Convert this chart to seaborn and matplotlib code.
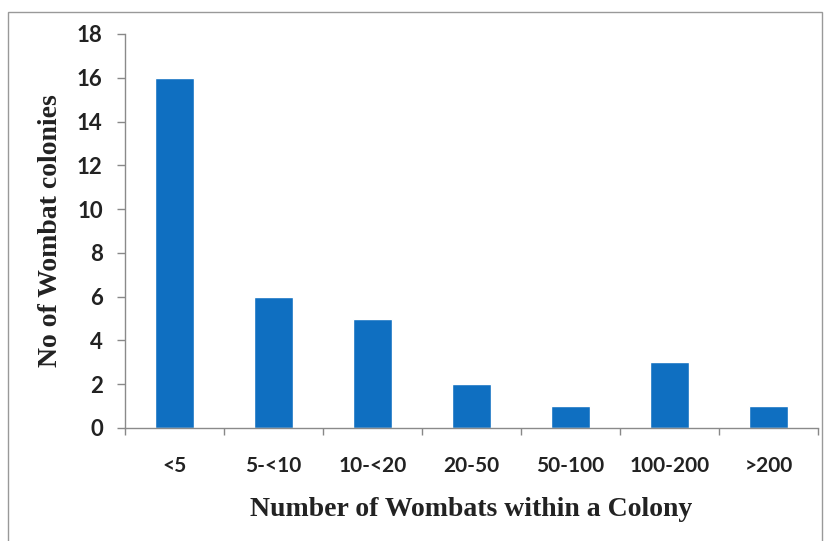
import matplotlib
matplotlib.use("Agg")
import matplotlib.pyplot as plt
import seaborn as sns
import pandas as pd
from matplotlib.patches import Rectangle

# dados
categorias = ["<5", "5-<10", "10-<20", "20-50", "50-100", "100-200", ">200"]
colonias = [16, 6, 5, 2, 1, 3, 1]
yticks = [0, 2, 4, 6, 8, 10, 12, 14, 16, 18]

df = pd.DataFrame({"grupo": categorias, "n": colonias})

sns.set_style("white")
plt.rcParams["font.family"] = ["Lato", "DejaVu Sans"]

fig = plt.figure(figsize=(8.26, 5.41), dpi=100)
ax = fig.add_axes([125 / 826, 1 - 428 / 541, (818 - 125) / 826, (428 - 34) / 541])

sns.barplot(data=df, x="grupo", y="n", color="#0f6fc1", saturation=1, width=0.4, ax=ax)

ax.set_ylim(0, 18)
ax.set_xlim(-0.5, len(categorias) - 0.5)
ax.set_yticks(yticks)
ax.set_yticklabels([str(v) for v in yticks], fontsize=16, fontweight="bold", color="#222222")

# ticks entre categorias (estilo Excel)
ax.set_xticks([i - 0.5 for i in range(len(categorias) + 1)])
ax.set_xticklabels([])
ax.set_xticks(range(len(categorias)), minor=True)
ax.set_xticklabels(categorias, minor=True, fontsize=15, fontweight="bold", color="#222222")
ax.tick_params(axis="x", which="major", direction="out", length=5, width=1, color="#888888", bottom=True)
ax.tick_params(axis="x", which="minor", length=0, pad=20)
ax.tick_params(axis="y", direction="out", length=6, width=1, color="#888888", left=True, pad=10)

for s in ["top", "right"]:
    ax.spines[s].set_visible(False)
for s in ["left", "bottom"]:
    ax.spines[s].set_color("#8a8a8a")
    ax.spines[s].set_linewidth(1)

ax.set_xlabel("Number of Wombats within a Colony", fontsize=20, fontweight="bold",
              family="Liberation Serif", color="#222222")
ax.set_ylabel("No of Wombat colonies", fontsize=20, fontweight="bold",
              family="Liberation Serif", color="#222222")
ax.xaxis.set_label_coords(0.5, -(497 - 428) / (428 - 34))
ax.yaxis.set_label_coords(-(125 - 63) / (818 - 125), 0.5)

# moldura da figura (a borda de baixo fica fora da imagem)
fig.patches.append(Rectangle((8 / 826, -0.05), 814 / 826, 1 - 12 / 541 + 0.05, transform=fig.transFigure,
                             fill=False, edgecolor="#999999", linewidth=1))

fig.savefig("out.png", dpi=100)
